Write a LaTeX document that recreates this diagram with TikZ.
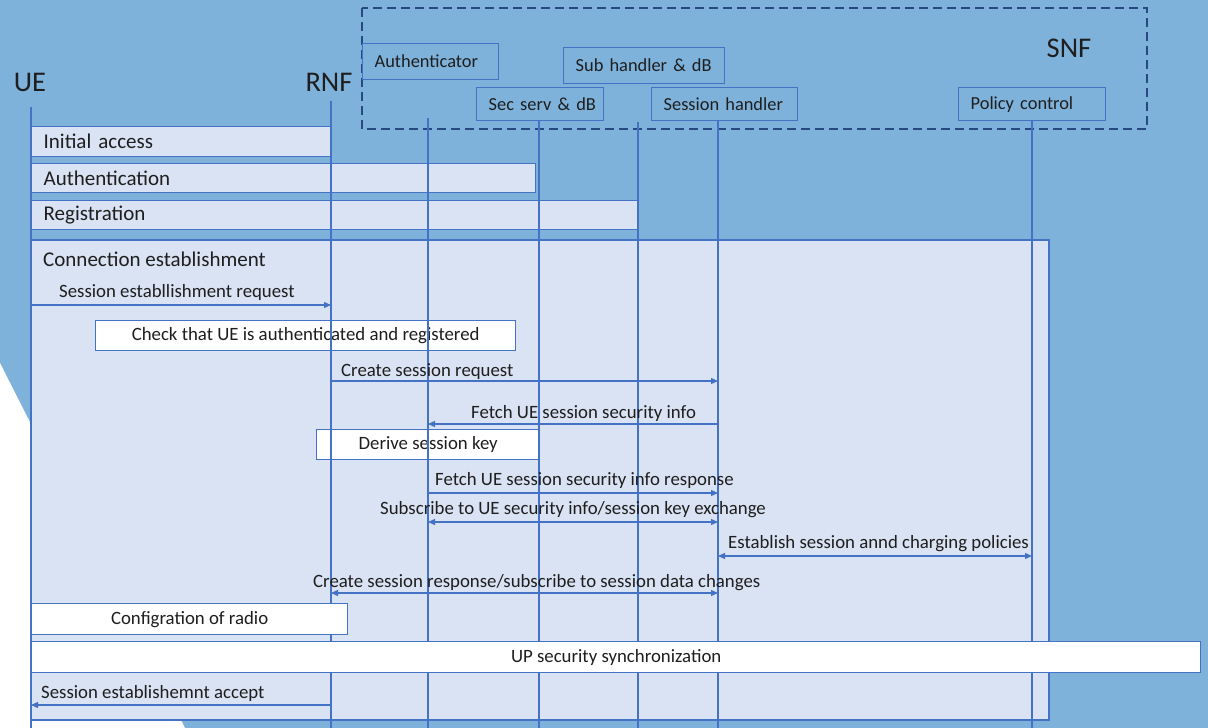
\documentclass[tikz,border=0pt]{standalone}
\usepackage{fontspec}
\setmainfont{Carlito}
\usetikzlibrary{arrows.meta, positioning}

\definecolor{slideblue}{RGB}{126,178,219}
\definecolor{panelblue}{RGB}{218,227,243}
\definecolor{seqblue}{RGB}{68,114,196}
\definecolor{dashblue}{RGB}{40,72,130}
\definecolor{ink}{RGB}{30,30,30}

\begin{document}
\begin{tikzpicture}[x=1pt, y=-1pt,
  every node/.style={text=ink, inner sep=0pt},
  big/.style={font=\fontsize{28.5}{32}\selectfont},
  lbl/.style={font=\fontsize{18.8}{22}\selectfont, anchor=west},
  phasetext/.style={font=\fontsize{21}{25}\selectfont, anchor=west},
  entity/.style={draw=seqblue, line width=1.3pt, font=\fontsize{18.4}{22}\selectfont,
    anchor=north west, align=left, inner xsep=12pt},
  phase/.style={draw=seqblue, fill=panelblue, line width=1.3pt},
  actbox/.style={draw=seqblue, fill=white, line width=1.3pt,
    font=\fontsize{18.8}{22}\selectfont, anchor=north west},
  lifeline/.style={seqblue, line width=1.3pt},
  msg/.style={lifeline, -{Triangle[length=7pt,width=6pt]}},
  dmsg/.style={lifeline, {Triangle[length=7pt,width=6pt]}-{Triangle[length=7pt,width=6pt]}},
]
\useasboundingbox (0,0) rectangle (1208,728);
\fill[slideblue] (0,0) rectangle (1208,728);
\fill[white] (0,363) -- (185,728) -- (0,728) -- cycle;

% participants
\node[big] (uehead) at (30,82) {UE};
\node[big] (rnfhead) at (329,82) {RNF};
\node[big] (snfhead) at (1069,48) {SNF};
\draw[dashblue, line width=1.3pt, dash pattern=on 9pt off 5pt] (362,8) rectangle (1147,129);

\node[entity, text width=112pt, minimum height=36pt] (authbox) at (362,43) {Authenticator};
\node[entity, text width=137pt, minimum height=36pt] (subbox) at (563,47) {\mbox{Sub handler \& dB}};
\node[entity, text width=103pt, minimum height=33pt] (secbox) at (476,87) {\mbox{Sec serv \& dB}};
\node[entity, text width=122pt, minimum height=33pt] (sesbox) at (651,87) {Session handler};
\node[entity, text width=123pt, minimum height=33pt] (polbox) at (958,87) {Policy control};

\foreach \n/\x/\t in {ue/31/107, rnf/331/101, auth/428/118, sec/539/121,
                      sub/638/122, ses/718/121, pol/1032/121}
  \coordinate (\n) at (\x,\t);
\coordinate (bot) at (0,728);

% message rows
\foreach \r/\y in {r1/305, r2/381, r3/424, r4/493, r5/522, r6/556, r7/593, r8/705}
  \coordinate (\r) at (0,\y);

% phases
\node[phase, entity, text width=276pt, minimum height=30pt, font=\fontsize{21}{25}\selectfont]
  (init) at (31,126) {Initial access};
\node[phase, entity, text width=480pt, minimum height=29pt, font=\fontsize{21}{25}\selectfont]
  (authn) at (31,163) {Authentication};
\node[phase, entity, text width=582pt, minimum height=29pt, font=\fontsize{21}{25}\selectfont]
  (reg) at (31,200) {Registration};

\draw[phase] (31,240) rectangle (1049,720);
\node[phasetext] (conn) at (43,259) {Connection establishment};

\node[actbox, minimum width=420pt, minimum height=30pt] (check) at (95,320)
  {Check that UE is authenticated and registered};
\node[actbox, minimum width=223pt, minimum height=30pt] (derive) at (316,429)
  {Derive session key};

\foreach \n in {ue, rnf, auth, sec, sub, ses, pol}
  \draw[lifeline] (\n) -- (\n |- bot);

% messages
\draw[msg] (ue |- r1) -- (rnf |- r1);
\node[lbl] (m1) at (59,292) {Session establlishment request};
\draw[msg] (rnf |- r2) -- (ses |- r2);
\node[lbl] (m2) at (341,372) {Create session request};
\draw[msg] (ses |- r3) -- (auth |- r3);
\node[lbl] (m3) at (471,413) {Fetch UE session security info};
\draw[msg] (auth |- r4) -- (ses |- r4);
\node[lbl] (m4) at (435,480) {Fetch UE session security info response};
\draw[dmsg] (auth |- r5) -- (ses |- r5);
\node[lbl] (m5) at (380,510) {Subscribe to UE security info/session key exchange};
\draw[dmsg] (ses |- r6) -- (pol |- r6);
\node[lbl] (m6) at (728,544) {Establish session annd charging policies};
\draw[dmsg] (rnf |- r7) -- (ses |- r7);
\node[lbl] (m7) at (313,583) {Create session response/subscribe to session data changes};

\node[actbox, minimum width=316pt, minimum height=31pt] (radio) at (31,603)
  {Configration of radio};
\node[actbox, minimum width=1169pt, minimum height=31pt] (upsync) at (31,641)
  {UP security synchronization};

\draw[msg] (rnf |- r8) -- (ue |- r8);
\node[lbl] (m8) at (41,693) {Session establishemnt accept};

\end{tikzpicture}
\end{document}
